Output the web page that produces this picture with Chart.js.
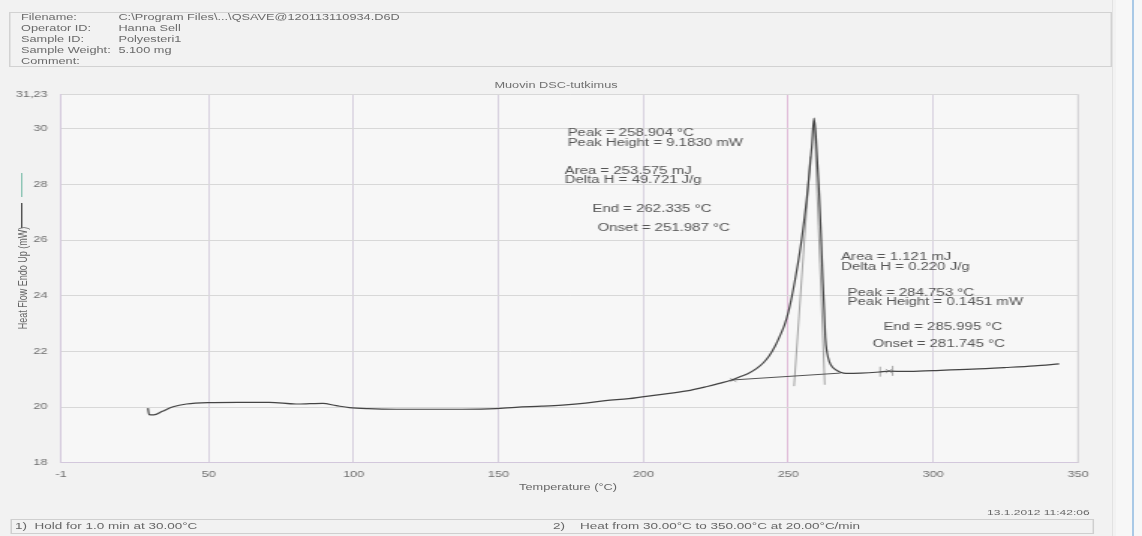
<!DOCTYPE html>
<html>
<head>
<meta charset="utf-8">
<script src="https://cdn.jsdelivr.net/npm/chart.js@4"></script>
<style>
  html,body{margin:0;padding:0;}
  body{width:1142px;height:536px;background:#f2f2f2;position:relative;overflow:hidden;font-family:"Liberation Sans",Arial,sans-serif;color:#666;}
  #stage{position:absolute;left:0;top:0;width:762px;height:536px;transform:scaleX(1.49869);transform-origin:0 0;}
  .abs{position:absolute;white-space:nowrap;}
  #header{position:absolute;left:6px;top:12px;width:736px;height:55px;border:1px solid #d2d2d2;box-sizing:border-box;}
  .hl{position:absolute;font-size:8.5px;line-height:11px;color:#6a6a6a;}
  #footer{position:absolute;left:7px;top:519px;width:723px;height:15px;border:1px solid #cfcfcf;box-sizing:border-box;}
  canvas{position:absolute;left:0;top:0;}
</style>
</head>
<body>
<div id="stage">
  <div id="header"></div>
  <div id="hdrLabels"></div>
  <div class="abs" style="left:271px;top:80px;width:200px;text-align:center;font-size:8.5px;line-height:10px;color:#707070;">Muovin DSC-tutkimus</div>
  <div class="abs" style="left:14px;top:173px;width:1.3px;height:24px;background:#8fc6b6;"></div>
  <div class="abs" style="left:14px;top:203px;width:1.3px;height:25px;background:#555;"></div>
  <div class="abs" style="left:14.7px;top:278px;font-size:9px;line-height:10px;color:#666;transform:translate(-50%,-50%) rotate(-90deg);">Heat Flow Endo Up (mW)</div>
  <div class="abs" style="left:329px;top:482px;width:100px;text-align:center;font-size:8.5px;line-height:10px;color:#666;">Temperature (°C)</div>
  <div class="abs" style="left:627px;top:508px;width:100px;text-align:right;font-size:8px;line-height:10px;color:#666;">13.1.2012 11:42:06</div>
  <div id="footer"></div>
  <div class="abs" style="left:10px;top:521px;font-size:9px;line-height:10px;color:#666;">1)&nbsp; Hold for 1.0 min at 30.00°C</div>
  <div class="abs" style="left:369px;top:521px;font-size:9px;line-height:10px;color:#666;">2)&nbsp;&nbsp;&nbsp; Heat from 30.00°C to 350.00°C at 20.00°C/min</div>
  <canvas id="c" width="762" height="536" style="width:762px;height:536px;"></canvas>
</div>
<div class="abs" style="left:1112px;top:0;width:1px;height:536px;background:#e2e2e2;"></div>
<div class="abs" style="left:1116px;top:0;width:26px;height:536px;background:#f7f7f7;"></div>
<div class="abs" style="left:1132px;top:0;width:2px;height:536px;background:#a9c9e6;"></div>
<script>
// ---- header info ----
const headerLabels = ["Filename:", "Operator ID:", "Sample ID:", "Sample Weight:", "Comment:"];
const headerValues = ["C:\\Program Files\\...\\QSAVE@120113110934.D6D", "Hanna Sell", "Polyesteri1", "5.100 mg", ""];

// ---- axis ticks ----
const xTicks = [-1, 50, 100, 150, 200, 250, 300, 350];
const yTicks = [18, 20, 22, 24, 26, 28, 30, 31.23];

// ---- DSC curve (Temperature °C, Heat Flow mW) ----
const temperature = [29.0, 29.4, 31.0, 34.0, 37.7, 42.3, 49.7, 60.0, 70.9, 80.1, 85.0, 89.3, 94.0, 98.5, 105.0, 114.6, 125.0, 137.5, 149.0, 155.9, 165.0, 172.0, 180.0, 186.9, 195.0, 205.0, 215.0, 222.0, 226.2, 230.4, 233.1, 236.0, 239.0, 241.5, 243.5, 245.5, 247.3, 248.7, 250.0, 251.2, 252.4, 253.5, 254.6, 255.6, 256.5, 257.3, 258.1, 258.9, 259.6, 260.7, 261.3, 261.9, 262.4, 262.8, 263.4, 264.2, 265.3, 266.5, 268.0, 269.9, 275.0, 281.4, 284.7, 290.6, 300.0, 313.6, 325.0, 335.0, 343.5];
const heatFlow    = [19.96, 19.73, 19.72, 19.85, 20.01, 20.11, 20.16, 20.17, 20.17, 20.11, 20.12, 20.13, 20.05, 19.98, 19.94, 19.92, 19.92, 19.92, 19.94, 19.99, 20.03, 20.07, 20.14, 20.23, 20.30, 20.44, 20.58, 20.74, 20.85, 20.97, 21.08, 21.20, 21.38, 21.60, 21.85, 22.20, 22.60, 22.95, 23.40, 23.95, 24.60, 25.25, 26.00, 26.80, 27.60, 28.45, 29.35, 30.38, 29.60, 27.60, 26.20, 24.60, 23.50, 22.50, 21.95, 21.62, 21.43, 21.33, 21.25, 21.21, 21.22, 21.26, 21.29, 21.28, 21.31, 21.36, 21.42, 21.48, 21.55];

// ---- analysis construction lines ----
const baselineT = [230.4, 268.0];
const baselineV = [20.97, 21.22];
const onsetLineT = [252.0, 257.6];
const onsetLineV = [20.75, 29.0];
const endLineT = [259.0, 262.6];
const endLineV = [30.2, 20.8];
const markerT = [231.0, 281.7, 284.7, 286.0];
const markerV = [20.97, 21.27, 21.29, 21.30];

// ---- annotation texts (anchored at data coordinates) ----
const noteTexts = ["Peak = 258.904 °C", "Peak Height = 9.1830 mW", "Area = 253.575 mJ", "Delta H = 49.721 J/g", "End = 262.335 °C", "Onset = 251.987 °C",
                   "Area = 1.121 mJ", "Delta H = 0.220 J/g", "Peak = 284.753 °C", "Peak Height = 0.1451 mW", "End = 285.995 °C", "Onset = 281.745 °C"];
const noteT = [173.8, 173.8, 172.8, 172.8, 182.4, 184.2, 268.2, 268.2, 270.5, 270.5, 282.8, 279.1];
const noteV = [29.85, 29.49, 28.49, 28.16, 27.12, 26.43, 25.38, 25.04, 24.09, 23.75, 22.85, 22.27];

// header HTML
(function(){
  const wrap = document.getElementById('hdrLabels');
  headerLabels.forEach((l,i)=>{
    const a = document.createElement('div'); a.className='hl'; a.style.left='14px'; a.style.top=(12+i*11)+'px'; a.textContent=l; wrap.appendChild(a);
    const b = document.createElement('div'); b.className='hl'; b.style.left='79px'; b.style.top=(12+i*11)+'px'; b.textContent=headerValues[i]; wrap.appendChild(b);
  });
})();

const zip = (a,b)=>a.map((x,i)=>({x:x,y:b[i]}));

const plotDeco = {
  id:'plotDeco',
  beforeDraw(chart){
    const {ctx, chartArea:a} = chart;
    ctx.save(); ctx.fillStyle='#f7f7f7'; ctx.fillRect(a.left,a.top,a.right-a.left,a.bottom-a.top); ctx.restore();
  },
  afterDraw(chart){
    const {ctx, chartArea:a, scales} = chart;
    ctx.save();
    ctx.strokeStyle='#d4d4d4'; ctx.lineWidth=1;
    ctx.beginPath(); ctx.moveTo(a.right,a.top); ctx.lineTo(a.right,a.bottom); ctx.stroke();
    ctx.fillStyle='#555';
    ctx.font='10px "Liberation Sans", Arial, sans-serif';
    ctx.textBaseline='middle'; ctx.textAlign='left';
    noteTexts.forEach((t,i)=>{
      ctx.fillText(t, scales.x.getPixelForValue(noteT[i]), scales.y.getPixelForValue(noteV[i]));
    });
    ctx.restore();
  }
};

const tickFont = {family:'"Liberation Sans", Arial, sans-serif', size:8.5};

new Chart(document.getElementById('c'), {
  type:'scatter',
  data:{
    datasets:[
      {data:zip(temperature,heatFlow), showLine:true, borderColor:'#444', borderWidth:1.2, pointRadius:0, cubicInterpolationMode:'monotone', order:1},
      {data:zip(baselineT,baselineV), showLine:true, borderColor:'#555', borderWidth:1, pointRadius:0, order:2},
      {data:zip(onsetLineT,onsetLineV), showLine:true, borderColor:'#8d8d8d', borderWidth:0.8, pointRadius:0, order:3},
      {data:zip(endLineT,endLineV), showLine:true, borderColor:'#8d8d8d', borderWidth:0.8, pointRadius:0, order:3},
      {data:zip(markerT,markerV), showLine:false, pointStyle:['crossRot','line','crossRot','line'], rotation:[0,90,0,90], pointRadius:[3,5,3,5], borderColor:'#999', borderWidth:0.8, order:4}
    ]
  },
  options:{
    responsive:false, animation:false, devicePixelRatio:1,
    layout:{padding:{left:0, top:94.5, right:42.7, bottom:0}},
    plugins:{legend:{display:false}, tooltip:{enabled:false}, title:{display:false}},
    scales:{
      x:{
        type:'linear', min:-1, max:350,
        afterBuildTicks(s){ s.ticks = xTicks.map(v=>({value:v})); },
        afterFit(s){ s.height = 73.3; },
        grid:{drawTicks:false, color:(c)=> c.tick && c.tick.value===250 ? '#e0bcd9' : '#d8d1df', lineWidth:1},
        border:{color:'#d3c8dc'},
        ticks:{padding:7, color:'#6e6e6e', font:tickFont, maxRotation:0, autoSkip:false, callback:(v)=>String(v)}
      },
      y:{
        type:'linear', min:18, max:31.23,
        afterBuildTicks(s){ s.ticks = yTicks.map(v=>({value:v})); },
        afterFit(s){ s.width = 40.7; },
        grid:{drawTicks:false, color:'#d8d8d8', lineWidth:1},
        border:{color:'#d3c8dc'},
        ticks:{padding:9, color:'#6e6e6e', font:tickFont, autoSkip:false, callback:(v)=> v===31.23 ? '31,23' : String(v)}
      }
    }
  },
  plugins:[plotDeco]
});
</script>
</body>
</html>
